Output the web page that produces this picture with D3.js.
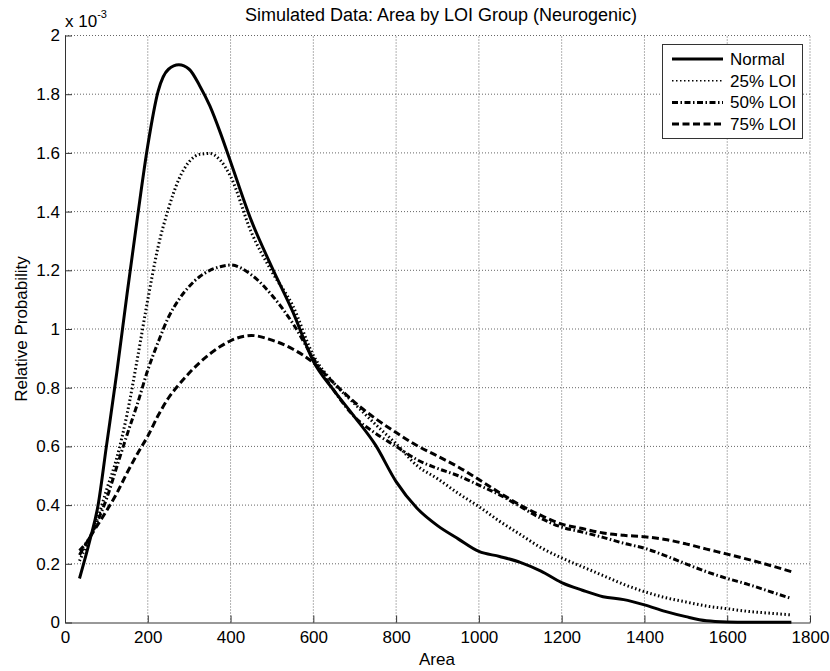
<!DOCTYPE html>
<html>
<head>
<meta charset="utf-8">
<script src="https://cdn.jsdelivr.net/npm/d3@7"></script>
<style>
  body { margin: 0; background: #fff; }
  text { font-family: "Liberation Sans", Arial, sans-serif; fill: #000; }
</style>
</head>
<body>
<div id="chart"></div>
<script>
// area samples shared by all groups
const areas = [35, 60, 80, 100, 125, 150, 175, 200, 225, 250, 275, 300, 325, 350, 375, 400,
  450, 500, 550, 600, 650, 700, 750, 800, 850, 900, 950, 1000, 1050, 1100, 1150, 1200,
  1250, 1300, 1350, 1400, 1450, 1500, 1550, 1600, 1650, 1700, 1755];

// relative probability, in units of 1e-3
const normal = [0.15, 0.28, 0.40, 0.60, 0.85, 1.12, 1.38, 1.625, 1.81, 1.885, 1.90, 1.885, 1.83, 1.76, 1.67, 1.57,
  1.37, 1.21, 1.06, 0.89, 0.79, 0.70, 0.605, 0.48, 0.39, 0.33, 0.285, 0.242, 0.225, 0.205, 0.175, 0.136,
  0.11, 0.088, 0.078, 0.06, 0.038, 0.02, 0.006, 0.002, 0.001, 0.001, 0.001];
const loi25 = [0.21, 0.29, 0.36, 0.45, 0.56, 0.71, 0.90, 1.10, 1.28, 1.41, 1.51, 1.57, 1.595, 1.598, 1.575, 1.52,
  1.33, 1.195, 1.08, 0.91, 0.815, 0.745, 0.675, 0.609, 0.535, 0.49, 0.44, 0.395, 0.345, 0.30, 0.255, 0.22,
  0.19, 0.16, 0.13, 0.105, 0.085, 0.07, 0.056, 0.047, 0.038, 0.032, 0.026];
const loi50 = [0.245, 0.29, 0.35, 0.42, 0.53, 0.64, 0.745, 0.86, 0.955, 1.04, 1.10, 1.145, 1.178, 1.20, 1.212, 1.218,
  1.185, 1.115, 1.02, 0.90, 0.79, 0.70, 0.645, 0.60, 0.555, 0.525, 0.50, 0.468, 0.435, 0.395, 0.355, 0.325,
  0.308, 0.29, 0.27, 0.253, 0.228, 0.20, 0.173, 0.15, 0.13, 0.107, 0.082];
const loi75 = [0.23, 0.29, 0.335, 0.38, 0.44, 0.51, 0.575, 0.635, 0.705, 0.765, 0.81, 0.85, 0.885, 0.915, 0.94, 0.96,
  0.978, 0.962, 0.932, 0.885, 0.815, 0.75, 0.695, 0.647, 0.603, 0.567, 0.53, 0.487, 0.442, 0.40, 0.365, 0.335,
  0.32, 0.305, 0.297, 0.292, 0.283, 0.268, 0.25, 0.233, 0.215, 0.196, 0.173];

const groupNames = ["Normal", "25% LOI", "50% LOI", "75% LOI"];
const xTicks = [0, 200, 400, 600, 800, 1000, 1200, 1400, 1600, 1800];
const yTicks = [0, 0.2, 0.4, 0.6, 0.8, 1, 1.2, 1.4, 1.6, 1.8, 2];

// chart settings
const width = 830;
const height = 671;
const plotLeft = 65, plotRight = 810, plotTop = 35.5, plotBottom = 622.5;
const dashes = ["none", "1.5,2.5", "6,2.5,1.5,2.5", "7,3.5"];

const xScale = d3.scaleLinear().domain([0, 1800]).range([plotLeft, plotRight]);
const yScale = d3.scaleLinear().domain([0, 2]).range([plotBottom, plotTop]);

const svg = d3.select("#chart").append("svg")
  .attr("width", width)
  .attr("height", height);

// grid
svg.append("g").selectAll("line")
  .data(xTicks.filter((d) => d > 0))
  .enter().append("line")
  .attr("x1", (d) => xScale(d)).attr("x2", (d) => xScale(d))
  .attr("y1", plotBottom).attr("y2", plotTop)
  .attr("stroke", "#666").attr("stroke-width", 1).attr("stroke-dasharray", "1,2");
svg.append("g").selectAll("line")
  .data(yTicks.filter((d) => d > 0))
  .enter().append("line")
  .attr("x1", plotLeft).attr("x2", plotRight)
  .attr("y1", (d) => yScale(d)).attr("y2", (d) => yScale(d))
  .attr("stroke", "#666").attr("stroke-width", 1).attr("stroke-dasharray", "1,2");

// axes, ticks pointing inside
const xAxis = d3.axisBottom(xScale).tickValues(xTicks).tickSizeInner(-7).tickSizeOuter(0).tickPadding(8)
  .tickFormat(d3.format("d"));
const yAxis = d3.axisLeft(yScale).tickValues(yTicks).tickSizeInner(-7).tickSizeOuter(0).tickPadding(5)
  .tickFormat((d) => d3.format("~g")(d));

const gx = svg.append("g").attr("transform", "translate(0," + plotBottom + ")").call(xAxis);
const gy = svg.append("g").attr("transform", "translate(" + plotLeft + ",0)").call(yAxis);
[gx, gy].forEach((g) => {
  g.selectAll("path, line").attr("stroke", "#333");
  g.selectAll("text").style("font-size", "17px").attr("fill", "#000");
});

// lines
const series = [normal, loi25, loi50, loi75];
const line = d3.line()
  .x((d) => xScale(d[0]))
  .y((d) => yScale(d[1]))
  .curve(d3.curveMonotoneX);

series.forEach((vals, i) => {
  svg.append("path")
    .datum(areas.map((a, j) => [a, vals[j]]))
    .attr("fill", "none")
    .attr("stroke", "#000")
    .attr("stroke-width", 3)
    .attr("stroke-dasharray", dashes[i])
    .attr("d", line);
});

// exponent label
const expo = svg.append("text").attr("x", 65).attr("y", 27).style("font-size", "17px");
expo.append("tspan").text("x 10");
expo.append("tspan").attr("dy", -9).style("font-size", "11px").text("-3");

// title and axis labels
svg.append("text")
  .attr("x", 441).attr("y", 21)
  .style("text-anchor", "middle").style("font-size", "18px")
  .text("Simulated Data: Area by LOI Group (Neurogenic)");

svg.append("text")
  .attr("x", 437).attr("y", 665)
  .style("text-anchor", "middle").style("font-size", "17px")
  .text("Area");

svg.append("text")
  .attr("transform", "translate(27,329) rotate(-90)")
  .style("text-anchor", "middle").style("font-size", "17px")
  .text("Relative Probability");

// legend
const legend = svg.append("g");
legend.append("rect")
  .attr("x", 662.5).attr("y", 44.5).attr("width", 140).attr("height", 94)
  .attr("fill", "#fff").attr("stroke", "#333").attr("stroke-width", 1);

groupNames.forEach((name, i) => {
  const ly = 59 + i * 21.7;
  legend.append("line")
    .attr("x1", 672).attr("x2", 723).attr("y1", ly).attr("y2", ly)
    .attr("stroke", "#000").attr("stroke-width", i === 1 ? 1.5 : 3)
    .attr("stroke-dasharray", dashes[i]);
  legend.append("text")
    .attr("x", 730).attr("y", ly + 6)
    .style("font-size", "17px")
    .text(name);
});
</script>
</body>
</html>
